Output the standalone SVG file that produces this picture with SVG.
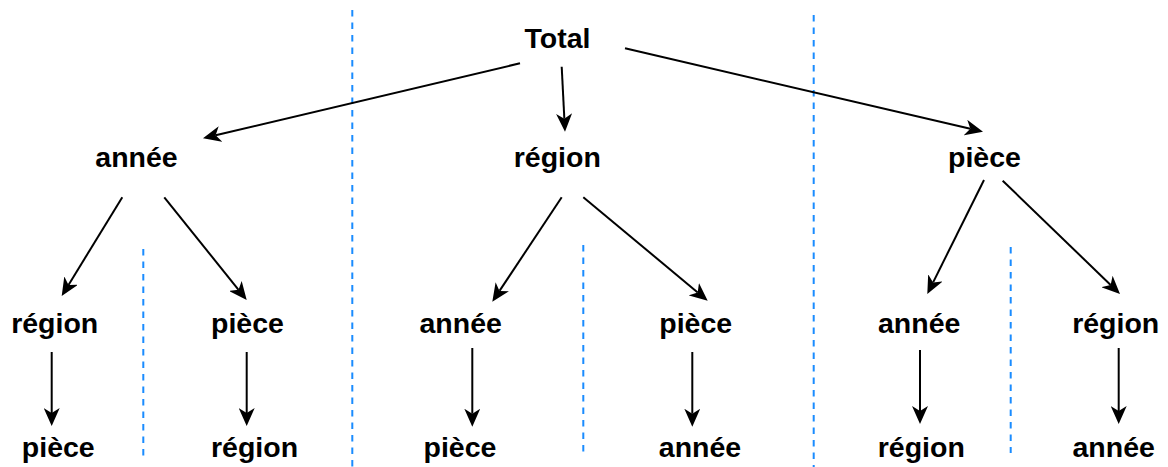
<svg xmlns="http://www.w3.org/2000/svg" width="1168" height="467" viewBox="0 0 1168 467">
<style>
.lbl{font-family:"Liberation Sans",Arial,Helvetica,sans-serif;font-weight:bold;font-size:28.5px;fill:#000;text-anchor:middle}
.edge{stroke:#000;stroke-width:2;fill:none;marker-end:url(#arr)}
.sep{stroke:#1a8cff;stroke-width:2;stroke-dasharray:6.5 6;fill:none}
</style>
<defs>
<marker id="arr" viewBox="0 0 18 16" markerWidth="18" markerHeight="16" refX="5" refY="8" orient="auto" markerUnits="userSpaceOnUse">
<path d="M0,0 L18,8 L0,16 L5,8 Z" fill="#000"/>
</marker>
</defs>
<rect width="1168" height="467" fill="#fff"/>
<g id="separators">
<line class="sep" x1="352.3" y1="10" x2="352.3" y2="467"/>
<line class="sep" x1="813.7" y1="15" x2="813.7" y2="467"/>
<line class="sep" x1="143.3" y1="249" x2="143.3" y2="457"/>
<line class="sep" x1="583.3" y1="245" x2="583.3" y2="453"/>
<line class="sep" x1="1010.7" y1="247" x2="1010.7" y2="453"/>
</g>
<g id="connectors">
<line class="edge" x1="520" y1="63.3" x2="215.65" y2="135.3"/>
<line class="edge" x1="561.7" y1="66.7" x2="564.34" y2="118.7"/>
<line class="edge" x1="625" y1="48.3" x2="970.34" y2="128.75"/>
<line class="edge" x1="122.3" y1="197.3" x2="68.5" y2="284.9"/>
<line class="edge" x1="164.3" y1="197.3" x2="238.57" y2="289.86"/>
<line class="edge" x1="561.7" y1="197.3" x2="499.5" y2="290.9"/>
<line class="edge" x1="583.3" y1="197.3" x2="697.7" y2="292.4"/>
<line class="edge" x1="984" y1="180" x2="933.1" y2="282.4"/>
<line class="edge" x1="1002.7" y1="180.7" x2="1110.65" y2="284.97"/>
<line class="edge" x1="51.7" y1="352" x2="51.7" y2="413"/>
<line class="edge" x1="246.7" y1="352" x2="246.7" y2="413"/>
<line class="edge" x1="472.3" y1="348" x2="472.3" y2="413.7"/>
<line class="edge" x1="692.3" y1="352" x2="692.3" y2="413.7"/>
<line class="edge" x1="920" y1="350" x2="920" y2="411"/>
<line class="edge" x1="1118.7" y1="348" x2="1118.7" y2="411"/>
</g>
<g id="n-total"><text class="lbl" x="557.5" y="48">Total</text></g>
<g id="n-annee"><text class="lbl" x="136.5" y="167">année</text></g>
<g id="n-region"><text class="lbl" x="557.3" y="167">région</text></g>
<g id="n-piece"><text class="lbl" x="984.5" y="167">pièce</text></g>
<g id="n-annee-region"><text class="lbl" x="54.7" y="333">région</text></g>
<g id="n-annee-piece"><text class="lbl" x="247.5" y="333">pièce</text></g>
<g id="n-region-annee"><text class="lbl" x="460.7" y="333">année</text></g>
<g id="n-region-piece"><text class="lbl" x="695.7" y="333">pièce</text></g>
<g id="n-piece-annee"><text class="lbl" x="919.2" y="333">année</text></g>
<g id="n-piece-region"><text class="lbl" x="1115.7" y="333">région</text></g>
<g id="n-annee-region-piece"><text class="lbl" x="58.3" y="457">pièce</text></g>
<g id="n-annee-piece-region"><text class="lbl" x="254.5" y="457">région</text></g>
<g id="n-region-annee-piece"><text class="lbl" x="460" y="457">pièce</text></g>
<g id="n-region-piece-annee"><text class="lbl" x="700" y="457">année</text></g>
<g id="n-piece-annee-region"><text class="lbl" x="921.3" y="457">région</text></g>
<g id="n-piece-region-annee"><text class="lbl" x="1113.7" y="457">année</text></g>
</svg>
